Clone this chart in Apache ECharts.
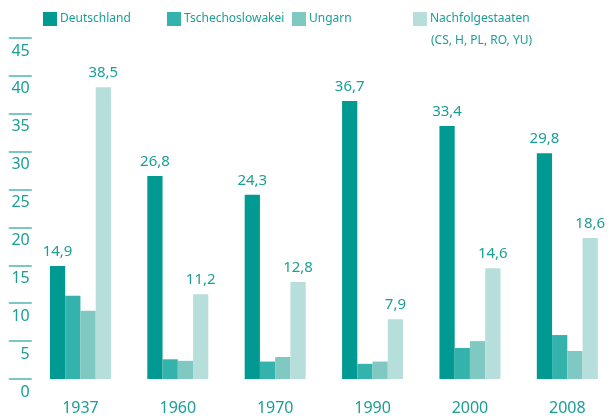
<!DOCTYPE html>
<html><head><meta charset="utf-8">
<script src="https://cdn.jsdelivr.net/npm/echarts@6/dist/echarts.min.js"></script>
<style>html,body{margin:0;padding:0;background:#fff}#c{width:616px;height:416px}</style>
</head><body><div id="c"></div>
<script>
var categories = ['1937','1960','1970','1990','2000','2008'];
var deutschland = [14.9, 26.8, 24.3, 36.7, 33.4, 29.8];
var tschecho = [11.0, 2.6, 2.3, 2.0, 4.1, 5.8];
var ungarn = [9.0, 2.4, 2.9, 2.3, 5.0, 3.7];
var nachfolge = [38.5, 11.2, 12.8, 7.9, 14.6, 18.6];
var seriesNames = ['Deutschland','Tschechoslowakei','Ungarn','Nachfolgestaaten'];
var legendSubline = '(CS, H, PL, RO, YU)';
var colors = ['#009a92','#33b3ac','#80c9c2','#b6dedb'];

var FONT = "'Noto Sans',sans-serif";
var TXT = '#1a9e96';

function fmt(p){ return String(p.value).replace('.', ','); }

var legendX = [43, 167, 292, 413];
var legends = seriesNames.map(function(n,i){
  return {
    data:[n], left: legendX[i], top: 12, itemWidth:14, itemHeight:14, itemGap:0,
    icon:'rect', selectedMode:false, padding:0,
    textStyle:{color:TXT, fontFamily:FONT, fontSize:12, padding:[1,0,0,-2]},
    align:'left'
  };
});

var chart = echarts.init(document.getElementById('c'), null, {renderer:'canvas'});
chart.setOption({
  animation:false,
  color: colors,
  legend: legends,
  graphic:[{type:'text', left:431, top:35, style:{text:legendSubline, fill:TXT, font:'12px '+FONT}}],
  grid:{left:31.75, top:38, right:-12.75, bottom:37},
  xAxis:{
    type:'category', data:categories,
    axisLine:{show:false}, axisTick:{show:false},
    axisLabel:{color:TXT, fontFamily:FONT, fontSize:16, margin:21}
  },
  yAxis:{
    type:'value', min:0, max:45, interval:5,
    splitLine:{show:false},
    axisLine:{show:false},
    axisTick:{show:true, length:23, inside:false, lineStyle:{color:'#4fb7b0', width:1.5}},
    axisLabel:{color:TXT, fontFamily:FONT, fontSize:16, margin:2, verticalAlign:'top', padding:[5,0,0,0]}
  },
  series:[
    {name:seriesNames[0], type:'bar', data:deutschland, barWidth:15.25, barGap:'0%',
     label:{show:true, position:'top', distance:7, color:TXT, fontFamily:FONT, fontSize:15, formatter:fmt}},
    {name:seriesNames[1], type:'bar', data:tschecho, barWidth:15.25, barGap:'0%'},
    {name:seriesNames[2], type:'bar', data:ungarn, barWidth:15.25, barGap:'0%'},
    {name:seriesNames[3], type:'bar', data:nachfolge, barWidth:15.25, barGap:'0%',
     label:{show:true, position:'top', distance:7, color:TXT, fontFamily:FONT, fontSize:15, formatter:fmt}}
  ]
});
</script></body></html>
